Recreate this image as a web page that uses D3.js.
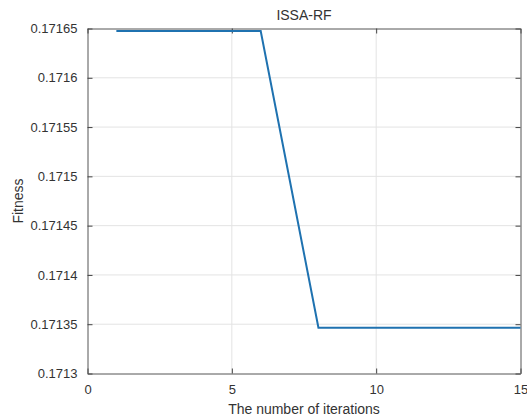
<!DOCTYPE html>
<html>
<head>
<meta charset="utf-8">
<script src="https://cdn.jsdelivr.net/npm/d3@7"></script>
<style>
  body { margin: 0; background: #fff; }
  text { font-family: "Liberation Sans", Arial, sans-serif; fill: #333; }
</style>
</head>
<body>
<div id="chart"></div>
<script>
// values
const iterations = [1, 2, 3, 4, 5, 6, 7, 8, 9, 10, 11, 12, 13, 14, 15];
const fitness = [0.1716475, 0.1716475, 0.1716475, 0.1716475, 0.1716475, 0.1716475,
                 0.1714970, 0.1713465, 0.1713465, 0.1713465, 0.1713465, 0.1713465,
                 0.1713465, 0.1713465, 0.1713465];
const xTicks = [0, 5, 10, 15];
const yTicks = [0.1713, 0.17135, 0.1714, 0.17145, 0.1715, 0.17155, 0.1716, 0.17165];

const width = 527, height = 419;
const margin = {top: 28.5, right: 6.5, bottom: 45.5, left: 87.5};
const w = width - margin.left - margin.right;
const h = height - margin.top - margin.bottom;

const svg = d3.select("#chart").append("svg")
    .attr("width", width).attr("height", height);
const g = svg.append("g").attr("transform", `translate(${margin.left},${margin.top})`);

const x = d3.scaleLinear().domain([0, 15]).range([0, w]);
const y = d3.scaleLinear().domain([0.1713, 0.17165]).range([h, 0]);

// grid
g.append("g").selectAll("line").data(xTicks.slice(1, -1)).join("line")
    .attr("x1", d => x(d)).attr("x2", d => x(d)).attr("y1", 0).attr("y2", h)
    .attr("stroke", "#e3e3e3").attr("stroke-width", 1);
g.append("g").selectAll("line").data(yTicks.slice(1, -1)).join("line")
    .attr("y1", d => y(d)).attr("y2", d => y(d)).attr("x1", 0).attr("x2", w)
    .attr("stroke", "#e3e3e3").attr("stroke-width", 1);

// axes (MATLAB style, inward ticks, box)
const fmt = d => String(+d.toFixed(5));
const axStyle = sel => {
  sel.select(".domain").attr("stroke", "#555");
  sel.selectAll(".tick line").attr("stroke", "#444");
  sel.selectAll("text").style("font-size", "13px").attr("fill", "#333");
};
g.append("g").attr("transform", `translate(0,${h})`)
    .call(d3.axisBottom(x).tickValues(xTicks).tickSizeInner(-5).tickSizeOuter(0).tickPadding(11))
    .call(axStyle);
g.append("g")
    .call(d3.axisLeft(y).tickValues(yTicks).tickFormat(fmt).tickSizeInner(-5).tickSizeOuter(0).tickPadding(10))
    .call(axStyle);
g.append("g")
    .call(d3.axisTop(x).tickValues(xTicks).tickSizeInner(-5).tickSizeOuter(0).tickFormat(""))
    .call(axStyle);
g.append("g").attr("transform", `translate(${w},0)`)
    .call(d3.axisRight(y).tickValues(yTicks).tickSizeInner(-5).tickSizeOuter(0).tickFormat(""))
    .call(axStyle);

// line
const line = d3.line().x((d, i) => x(iterations[i])).y(d => y(d));
g.append("path").datum(fitness)
    .attr("d", line)
    .attr("fill", "none")
    .attr("stroke", "#1f72b0")
    .attr("stroke-width", 2);

// labels
svg.append("text").attr("x", margin.left + w / 2).attr("y", 20)
    .attr("text-anchor", "middle").style("font-size", "14px").text("ISSA-RF");
svg.append("text").attr("x", margin.left + w / 2).attr("y", 414)
    .attr("text-anchor", "middle").style("font-size", "14px").text("The number of iterations");
svg.append("text")
    .attr("transform", `translate(23,${margin.top + h / 2}) rotate(-90)`)
    .attr("text-anchor", "middle").style("font-size", "14px").text("Fitness");
</script>
</body>
</html>
